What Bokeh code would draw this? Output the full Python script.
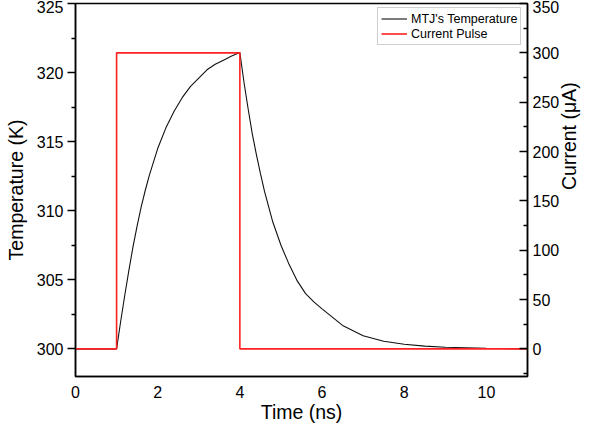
import math
from bokeh.plotting import figure
from bokeh.models import Range1d, LinearAxis, FixedTicker, Legend, LegendItem
from bokeh.embed import file_html
from bokeh.resources import INLINE

# ---- data ----
t_temp = [0.0, 1.0, 1.1, 1.2, 1.3, 1.4, 1.5, 1.6, 1.7, 1.8, 2.0, 2.2, 2.4, 2.6,
          2.8, 3.0, 3.2, 3.4, 3.6, 3.8, 4.0, 4.1, 4.2, 4.3, 4.4, 4.5, 4.6, 4.8,
          5.0, 5.2, 5.4, 5.6, 5.8, 6.0, 6.5, 7.0, 7.5, 8.0, 8.5, 9.0, 10.0, 11.0]
temperature = [300.0, 300.0, 302.0, 303.9, 305.7, 307.4, 308.9, 310.3, 311.5,
               312.6, 314.5, 316.0, 317.2, 318.2, 319.0, 319.6, 320.2, 320.6,
               320.9, 321.2, 321.45, 319.3, 317.4, 315.6, 314.1, 312.7, 311.4,
               309.2, 307.5, 306.1, 304.9, 304.0, 303.4, 302.9, 301.7, 300.95,
               300.55, 300.33, 300.2, 300.12, 300.04, 300.0]
t_pulse = [0.0, 1.0, 1.0, 4.0, 4.0, 11.0]
current = [0.0, 0.0, 300.0, 300.0, 0.0, 0.0]

x_ticks = [0, 2, 4, 6, 8, 10]
temp_ticks = [300, 305, 310, 315, 320, 325]
temp_minor = [302.5, 307.5, 312.5, 317.5, 322.5]
cur_ticks = [0, 50, 100, 150, 200, 250, 300, 350]
cur_minor = [-25, 25, 75, 125, 175, 225, 275, 325]

FONT = "Liberation Sans"

p = figure(width=594, height=425, x_range=Range1d(0, 11), y_range=Range1d(298, 325),
           output_backend="svg", toolbar_location=None,
           min_border_left=75, min_border_right=56, min_border_top=3, min_border_bottom=49)
p.extra_y_ranges = {"cur": Range1d(-28, 350)}
p.xgrid.visible = False
p.ygrid.visible = False
p.outline_line_color = "black"
p.outline_line_width = 1.5
p.background_fill_color = "white"
p.border_fill_color = "white"

r1 = p.line(t_temp, temperature, line_color="#111111", line_width=1.1)
r2 = p.line(t_pulse, current, line_color="#ff2020", line_width=1.6, y_range_name="cur")

# bottom axis
xa = p.xaxis[0]
xa.ticker = FixedTicker(ticks=x_ticks)
xa.major_tick_out = 0
xa.major_tick_in = 0
xa.minor_tick_out = 0
xa.minor_tick_in = 0
xa.major_label_standoff = 9
xa.axis_label = "Time (ns)"
xa.axis_label_standoff = 0

# left axis
ya = p.yaxis[0]
ya.ticker = FixedTicker(ticks=temp_ticks, minor_ticks=temp_minor)
ya.major_tick_out = 8
ya.major_tick_in = 0
ya.minor_tick_out = 4
ya.minor_tick_in = 0
ya.major_label_standoff = 4
ya.axis_label = "Temperature (K)"
ya.axis_label_standoff = 7

# right axis
ra = LinearAxis(y_range_name="cur",
                ticker=FixedTicker(ticks=cur_ticks, minor_ticks=cur_minor))
ra.major_tick_out = 0
ra.major_tick_in = 8
ra.minor_tick_out = 0
ra.minor_tick_in = 4
ra.major_label_standoff = 5
ra.axis_label = "Current (\u03bcA)"
ra.axis_label_standoff = 7
ra.axis_label_orientation = math.pi / 2
p.add_layout(ra, "right")

for ax in [xa, ya, ra]:
    ax.axis_line_color = "black"
    ax.axis_line_width = 1.5
    ax.major_tick_line_color = "black"
    ax.major_tick_line_width = 1.5
    ax.minor_tick_line_color = "black"
    ax.minor_tick_line_width = 1.5
    ax.major_label_text_font = FONT
    ax.major_label_text_font_size = "16px"
    ax.major_label_text_color = "black"
    ax.axis_label_text_font = FONT
    ax.axis_label_text_font_size = "19.5px"
    ax.axis_label_text_font_style = "normal"
    ax.axis_label_text_color = "black"
    ax.axis_label_text_line_height = 1.0

legend = Legend(items=[LegendItem(label="MTJ's Temperature", renderers=[r1]),
                       LegendItem(label="Current Pulse", renderers=[r2])],
                location=(302, 331))
legend.label_text_font = FONT
legend.label_text_font_size = "12.5px"
legend.label_text_color = "black"
legend.glyph_width = 26
legend.glyph_height = 15
legend.label_height = 15
legend.label_standoff = 4
legend.spacing = 0
legend.padding = 3
legend.margin = 0
legend.border_line_color = "#a0a0a0"
legend.border_line_width = 1
legend.background_fill_color = "white"
legend.background_fill_alpha = 1.0
p.add_layout(legend)

open("out.html", "w").write(file_html(p, INLINE))
